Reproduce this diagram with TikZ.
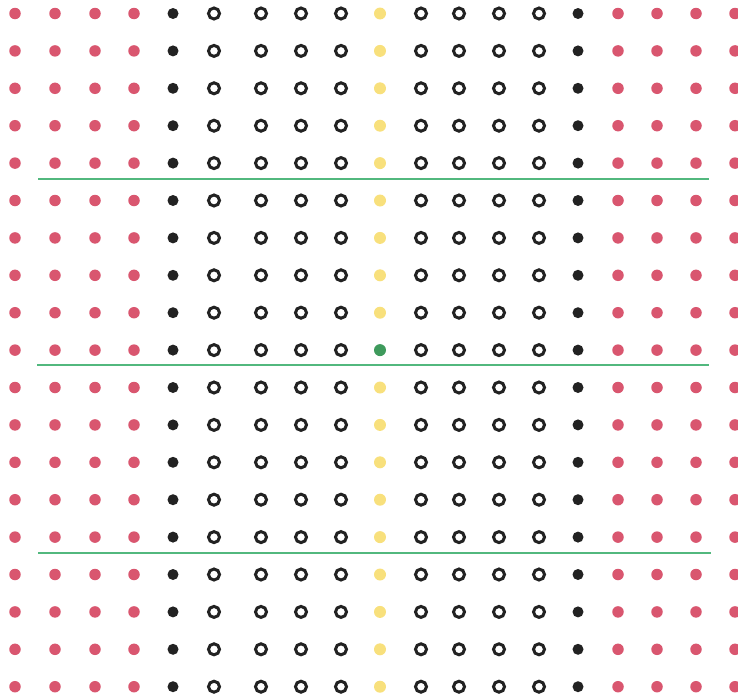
\documentclass[tikz,border=0pt]{standalone}
\usepackage{xcolor}
\usepackage{tikz}
\usetikzlibrary{positioning}

\definecolor{dotred}{HTML}{D9566F}
\definecolor{dotblack}{HTML}{222222}
\definecolor{dotyellow}{HTML}{F8E07C}
\definecolor{dotgreen}{HTML}{3E9A5C}
\definecolor{linegreen}{HTML}{52B87E}

\begin{document}
\begin{tikzpicture}[
      x=1pt, y=-1pt,
      dot/.style={circle, inner sep=0pt, outer sep=0pt, minimum size=11.5pt},
      reddot/.style={dot, fill=dotred},
      blackdot/.style={dot, fill=dotblack, minimum size=11pt},
      opendot/.style={dot, draw=dotblack, line width=3pt, minimum size=11pt},
      yellowdot/.style={dot, fill=dotyellow, minimum size=12pt},
      greendot/.style={dot, fill=dotgreen, minimum size=12pt},
      sepline/.style={draw=linegreen, line width=2.8pt}
    ]
      \useasboundingbox (0,0) rectangle (738,696);
      % columns of dots
      \foreach \x/\s [count=\c] in {15/reddot, 55/reddot, 95/reddot, 134/reddot,
          173/blackdot, 214/opendot, 261/opendot, 301/opendot, 341/opendot,
          380/yellowdot, 421/opendot, 459/opendot, 499/opendot, 539/opendot,
          578/blackdot, 618/reddot, 657/reddot, 696/reddot, 735/reddot}
        \foreach \r in {1,...,19} {
          \ifnum\c=10 \ifnum\r=10 \def\s{greendot}\fi\fi
          \node[\s] (d-\r-\c) at (\x, {13.5+37.4*(\r-1)}) {};
        }
      % separators
      \coordinate (s1a) at (38,179);  \coordinate (s1b) at (709,179);
      \coordinate (s2a) at (37,365);  \coordinate (s2b) at (709,365);
      \coordinate (s3a) at (38,553);  \coordinate (s3b) at (711,553);
      \draw[sepline] (s1a) -- (s1b);
      \draw[sepline] (s2a) -- (s2b);
      \draw[sepline] (s3a) -- (s3b);
    \end{tikzpicture}
\end{document}
